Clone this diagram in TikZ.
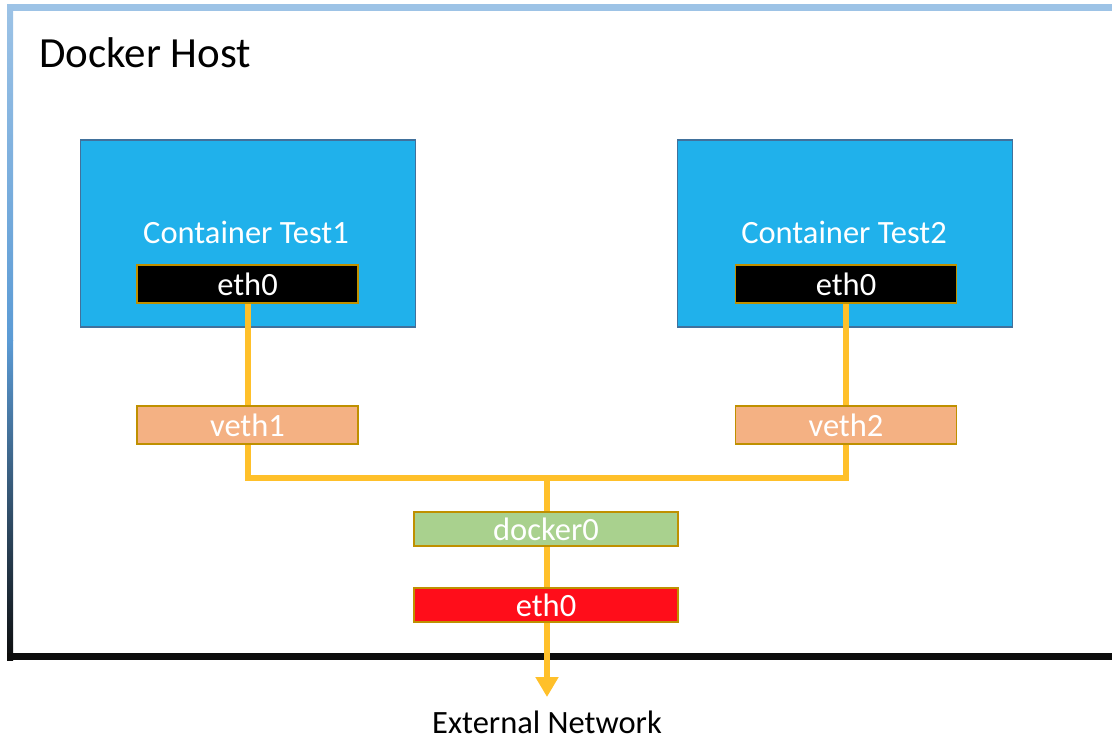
\documentclass[tikz,border=0pt]{standalone}
\usepackage{fontspec}
\setmainfont{Carlito}
\usetikzlibrary{arrows.meta}
\definecolor{hostblue}{HTML}{9DC3E6}
\definecolor{hostmid}{HTML}{5B9BD5}
\definecolor{hostdark}{HTML}{0D0D0D}
\definecolor{contfill}{HTML}{20B1EB}
\definecolor{contdraw}{HTML}{41719C}
\definecolor{gold}{HTML}{BF9000}
\definecolor{vethfill}{HTML}{F4B183}
\definecolor{dockfill}{HTML}{A9D18E}
\definecolor{redfill}{HTML}{FF0D1A}
\definecolor{wire}{HTML}{FFC02A}
\tikzset{
  container/.style={draw=contdraw, fill=contfill, line width=1.5pt, minimum width=335pt, minimum height=187pt, inner sep=0pt},
  ctitle/.style={text=white, font=\fontsize{32.5}{38}\selectfont, anchor=base, inner sep=0pt},
  iface/.style={draw=gold, line width=1.5pt, text=white, font=\fontsize{32.5}{38}\selectfont, minimum width=221pt, minimum height=38pt, inner sep=0pt},
  bridge/.style={iface, minimum width=264pt, minimum height=34pt},
  wireline/.style={draw=wire, line width=6pt},
}
\begin{document}
\begin{tikzpicture}[x=1pt,y=-1pt]
\useasboundingbox (0,0) rectangle (1112,740);
% host frame
\fill[hostblue] (7,4) rectangle (1112,11);
\shade[top color=hostblue, bottom color=hostmid] (7,4) rectangle (13,340);
\shade[top color=hostmid, bottom color=hostdark] (7,340) rectangle (13,660);
\fill[hostdark] (7,653) rectangle (1112,660);
\node[anchor=base west, inner sep=0pt, font=\fontsize{43}{50}\selectfont] (host) at (39,67) {Docker Host};
% containers
\node[container] (c1) at (248,233.5) {};
\node[ctitle] (t1) at (246,243) {Container Test1};
\node[iface, fill=black] (e1) at (247.5,284) {eth0};
\node[container] (c2) at (845,233.5) {};
\node[ctitle] (t2) at (844,243) {Container Test2};
\node[iface, fill=black] (e2) at (846,284) {eth0};
% veths
\node[iface, fill=vethfill] (v1) at (247.5,425) {veth1};
\node[iface, fill=vethfill] (v2) at (846,425) {veth2};
% bridge and host eth
\node[bridge, fill=dockfill] (d0) at (546,529) {docker0};
\node[bridge, fill=redfill] (x0) at (546,605) {eth0};
\node[anchor=base, inner sep=0pt, font=\fontsize{32.5}{38}\selectfont] (ext) at (547,733) {External Network};
\coordinate (j) at (547,478);
\coordinate (tip) at (547,697);
% wires
\draw[wireline] (e1.south) -- (v1.north);
\draw[wireline] (e2.south) -- (v2.north);
\draw[wireline] (v1.south) |- (j) -| (v2.south);
\draw[wireline] (j) -- (d0.north -| j);
\draw[wireline] (d0.south -| j) -- (x0.north -| j);
\draw[wireline, -{Triangle[width=22pt,length=20pt]}] (x0.south -| j) -- (tip);
\end{tikzpicture}
\end{document}
